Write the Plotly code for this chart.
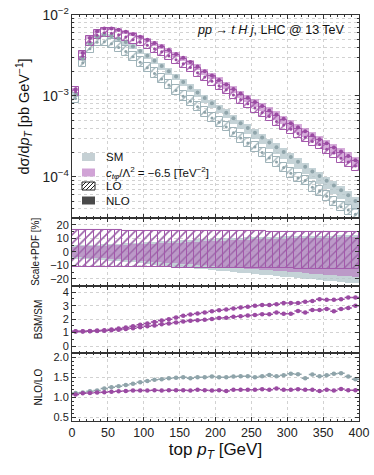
import plotly.graph_objects as go
from plotly.subplots import make_subplots

FONT = "Liberation Sans, Arial, sans-serif"
SM_FILL = "rgba(178,196,201,0.75)"
SM_LINE = "#9fb3b9"
SM_MARK = "#8fa4aa"
BSM_FILL = "rgba(180,105,188,0.55)"
BSM_LINE = "#a358ab"
BSM_MARK = "#9a4aa2"
GRID = "#d2d2d2"
AXIS = "#333333"

# bin centres, 10 GeV bins
pt = [5, 15, 25, 35, 45, 55, 65, 75, 85, 95,
      105, 115, 125, 135, 145, 155, 165, 175, 185, 195,
      205, 215, 225, 235, 245, 255, 265, 275, 285, 295,
      305, 315, 325, 335, 345, 355, 365, 375, 385, 395]

# dsigma/dpT at NLO [pb/GeV]
sm_nlo = [1.03e-3, 2.88e-3, 4.41e-3, 5.37e-3, 5.69e-3, 5.50e-3, 5.09e-3, 4.62e-3, 4.07e-3, 3.59e-3,
          3.13e-3, 2.72e-3, 2.34e-3, 2.02e-3, 1.74e-3, 1.48e-3, 1.27e-3, 1.10e-3, 9.4e-4, 8.1e-4,
          7.1e-4, 6.2e-4, 5.3e-4, 4.6e-4, 4.0e-4, 3.5e-4, 3.05e-4, 2.66e-4, 2.32e-4, 2.02e-4,
          1.76e-4, 1.53e-4, 1.33e-4, 1.16e-4, 1.02e-4, 8.9e-5, 7.8e-5, 6.8e-5, 5.9e-5, 5.0e-5]
bsm_nlo = [1.20e-3, 3.40e-3, 5.20e-3, 6.30e-3, 6.80e-3, 6.80e-3, 6.55e-3, 6.20e-3, 5.80e-3, 5.40e-3,
           4.95e-3, 4.50e-3, 4.10e-3, 3.70e-3, 3.30e-3, 2.95e-3, 2.62e-3, 2.30e-3, 2.02e-3, 1.78e-3,
           1.57e-3, 1.38e-3, 1.22e-3, 1.07e-3, 9.5e-4, 8.4e-4, 7.5e-4, 6.6e-4, 5.9e-4, 5.2e-4,
           4.6e-4, 4.1e-4, 3.65e-4, 3.25e-4, 2.9e-4, 2.6e-4, 2.3e-4, 2.05e-4, 1.8e-4, 1.6e-4]

# NLO/LO
k_sm = [1.11, 1.12, 1.15, 1.17, 1.22, 1.25, 1.28, 1.31, 1.34, 1.38,
        1.41, 1.44, 1.45, 1.48, 1.49, 1.50, 1.48, 1.50, 1.50, 1.52,
        1.50, 1.50, 1.52, 1.53, 1.53, 1.50, 1.53, 1.56, 1.53, 1.55,
        1.59, 1.58, 1.48, 1.57, 1.53, 1.55, 1.59, 1.60, 1.52, 1.45]
k_bsm = [1.07, 1.10, 1.11, 1.12, 1.13, 1.14, 1.15, 1.16, 1.17, 1.17,
         1.17, 1.18, 1.17, 1.18, 1.18, 1.18, 1.17, 1.19, 1.18, 1.17,
         1.18, 1.16, 1.19, 1.19, 1.19, 1.19, 1.20, 1.19, 1.22, 1.19,
         1.19, 1.20, 1.19, 1.19, 1.16, 1.19, 1.17, 1.21, 1.18, 1.18]

# BSM/SM
ratio_lo = [1.10, 1.10, 1.12, 1.15, 1.18, 1.23, 1.30, 1.38, 1.47, 1.58,
            1.68, 1.78, 1.90, 2.00, 2.12, 2.25, 2.35, 2.42, 2.50, 2.58,
            2.66, 2.72, 2.80, 2.86, 2.93, 3.00, 3.06, 3.06, 3.10, 3.20,
            3.20, 3.20, 3.30, 3.35, 3.48, 3.45, 3.45, 3.48, 3.60, 3.60]
ratio_nlo = [1.08, 1.08, 1.10, 1.12, 1.14, 1.17, 1.22, 1.27, 1.33, 1.40,
             1.47, 1.53, 1.62, 1.68, 1.76, 1.82, 1.88, 1.92, 1.96, 2.02,
             2.08, 2.10, 2.18, 2.22, 2.28, 2.30, 2.37, 2.37, 2.50, 2.40,
             2.40, 2.60, 2.50, 2.68, 2.68, 2.76, 2.58, 2.76, 2.82, 3.00]

# scale+PDF uncertainty [%]
lo_up = [16.0, 16.0, 16.0, 16.0, 16.0, 16.0, 16.0, 15.8, 15.8, 15.8,
         15.8, 15.6, 15.6, 15.6, 15.6, 15.5, 15.5, 15.5, 15.4, 15.4,
         15.4, 15.3, 15.3, 15.3, 15.2, 15.2, 15.2, 15.1, 15.1, 15.1,
         15.0, 15.0, 15.0, 15.0, 15.0, 15.0, 14.9, 14.9, 14.9, 14.9]
lo_dn = [-11.0, -11.0, -11.0, -11.0, -11.1, -11.1, -11.2, -11.2, -11.3, -11.3,
         -11.4, -11.4, -11.5, -11.5, -11.6, -11.6, -11.7, -11.7, -11.8, -11.8,
         -11.9, -11.9, -12.0, -12.0, -12.0, -12.1, -12.1, -12.1, -12.2, -12.2,
         -12.2, -12.3, -12.3, -12.3, -12.4, -12.4, -12.4, -12.5, -12.5, -12.5]
sm_nlo_up = [5.0, 5.0, 5.2, 5.4, 5.6, 5.8, 6.0, 6.3, 6.6, 6.9,
             7.2, 7.5, 7.8, 8.1, 8.4, 8.7, 9.0, 9.3, 9.6, 9.8,
             10.0, 10.2, 10.4, 10.6, 10.8, 11.0, 11.1, 11.2, 11.4, 11.5,
             11.6, 11.7, 11.8, 11.9, 12.0, 12.1, 12.2, 12.3, 12.4, 12.5]
sm_nlo_dn = [-5.0, -5.0, -5.3, -5.6, -6.0, -6.4, -6.8, -7.3, -7.8, -8.3,
             -8.8, -9.3, -9.8, -10.3, -10.8, -11.3, -11.8, -12.3, -12.8, -13.3,
             -13.8, -14.3, -14.8, -15.3, -15.8, -16.3, -16.8, -17.3, -17.8, -18.3,
             -18.8, -19.3, -19.8, -20.3, -20.8, -21.3, -21.8, -22.3, -22.8, -23.3]
bsm_nlo_up = [4.0, 4.2, 4.4, 4.6, 4.8, 5.0, 5.2, 5.4, 5.6, 5.8,
              6.0, 6.2, 6.4, 6.6, 6.8, 7.0, 7.2, 7.5, 7.8, 8.0,
              8.3, 8.5, 8.7, 8.9, 9.1, 9.3, 9.5, 9.6, 9.8, 9.9,
              10.0, 10.2, 10.3, 10.4, 10.5, 10.6, 10.7, 10.8, 10.9, 11.0]
bsm_nlo_dn = [-4.0, -4.0, -4.2, -4.4, -4.7, -5.0, -5.3, -5.6, -6.0, -6.4,
              -6.8, -7.2, -7.6, -8.0, -8.4, -8.8, -9.2, -9.6, -10.0, -10.4,
              -10.8, -11.2, -11.6, -12.0, -12.4, -12.8, -13.2, -13.6, -14.0, -14.4,
              -14.8, -15.2, -15.6, -16.0, -16.4, -16.8, -17.2, -17.6, -17.9, -18.2]

legend_labels = ["SM",
                 "<i>c</i><sub><i>tφ</i></sub>/Λ<sup>2</sup> = −6.5 [TeV<sup>−2</sup>]",
                 "LO", "NLO"]

W, H = 374, 475
M = dict(l=72, r=15, t=15, b=54)


def px(x, y):
    """pixel position -> paper coordinates"""
    return ((x - M["l"]) / (W - M["l"] - M["r"]),
            1 - (y - M["t"]) / (H - M["t"] - M["b"]))


def band(x, lo, hi, color, line=None, hatch=False):
    marker = dict(color=color, line=dict(width=0))
    if line:
        marker["line"] = dict(width=1, color=line)
    if hatch:
        marker["pattern"] = dict(shape="/", size=6, solidity=0.22, fillmode="replace")
    return go.Bar(x=x, base=lo, y=[h - l for l, h in zip(lo, hi)], width=10,
                  marker=marker, showlegend=False, hoverinfo="skip")


def points(x, y, color, size=4.5):
    return go.Scatter(x=x, y=y, mode="markers", showlegend=False, hoverinfo="skip",
                      marker=dict(size=size, color=color),
                      error_x=dict(type="constant", value=5, width=0, thickness=1.5, color=color))


fig = make_subplots(rows=4, cols=1, shared_xaxes=True, vertical_spacing=0,
                    row_heights=[0.5, 0.1667, 0.1667, 0.1667])

# main panel
for nlo, k, up, dn, fill, line, mark in [
    (sm_nlo, k_sm, sm_nlo_up, sm_nlo_dn, SM_FILL, SM_LINE, SM_MARK),
    (bsm_nlo, k_bsm, bsm_nlo_up, bsm_nlo_dn, BSM_FILL, BSM_LINE, BSM_MARK),
]:
    lo_c = [n / kk for n, kk in zip(nlo, k)]
    fig.add_trace(band(pt, [v * (1 + d / 100) for v, d in zip(nlo, dn)],
                       [v * (1 + u / 100) for v, u in zip(nlo, up)], fill), row=1, col=1)
    fig.add_trace(band(pt, [v * (1 + d / 100) for v, d in zip(lo_c, lo_dn)],
                       [v * (1 + u / 100) for v, u in zip(lo_c, lo_up)], line, line=line, hatch=True),
                  row=1, col=1)
    fig.add_trace(go.Scatter(x=pt, y=nlo, mode="markers", marker=dict(size=4, color=mark),
                             showlegend=False, hoverinfo="skip"), row=1, col=1)
    fig.add_trace(go.Scatter(x=pt, y=lo_c, mode="markers", marker=dict(size=3, color=mark),
                             showlegend=False, hoverinfo="skip"), row=1, col=1)

# scale+PDF panel
fig.add_trace(band(pt, sm_nlo_dn, sm_nlo_up, SM_FILL), row=2, col=1)
fig.add_trace(band(pt, bsm_nlo_dn, bsm_nlo_up, BSM_FILL), row=2, col=1)
fig.add_trace(band(pt, lo_dn, lo_up, SM_LINE, line=SM_LINE, hatch=True), row=2, col=1)
fig.add_trace(band(pt, lo_dn, lo_up, BSM_LINE, line=BSM_LINE, hatch=True), row=2, col=1)

# BSM/SM
fig.add_trace(points(pt, ratio_lo, BSM_MARK), row=3, col=1)
fig.add_trace(points(pt, ratio_nlo, BSM_MARK), row=3, col=1)

# NLO/LO
fig.add_trace(points(pt, k_sm, SM_MARK), row=4, col=1)
fig.add_trace(points(pt, k_bsm, BSM_MARK), row=4, col=1)

common = dict(showline=True, linecolor=AXIS, linewidth=1, mirror="ticks", ticks="inside",
              tickcolor=AXIS, ticklen=4, showgrid=True, gridcolor=GRID, griddash="dot",
              gridwidth=0.8, zeroline=False, automargin=False,
              tickfont=dict(size=11, color="#222"))

for r in range(1, 5):
    fig.update_xaxes(common, range=[0, 400], dtick=50,
                     minor=dict(ticks="inside", ticklen=2, dtick=10, tickcolor=AXIS), row=r, col=1)
fig.update_xaxes(tickfont=dict(size=12.5, color="#222"),
                 title=dict(text="top <i>p<sub>T</sub></i> [GeV]", font=dict(size=17, color="#111"),
                            standoff=1), row=4, col=1)

fig.update_yaxes(common, type="log", range=[-4.51, -2], dtick=1, exponentformat="power",
                 minor=dict(ticks="inside", ticklen=2, dtick="D1", tickcolor=AXIS, showgrid=True,
                            gridcolor=GRID, griddash="dot", gridwidth=0.8),
                 title=dict(text="dσ/d<i>p<sub>T</sub></i> [pb GeV<sup>−1</sup>]",
                            font=dict(size=14.5, color="#111"), standoff=9), row=1, col=1)
fig.update_yaxes(common, range=[-25, 25.2], tickvals=[-20, -10, 0, 10, 20],
                 minor=dict(ticks="inside", ticklen=2, dtick=5, tickcolor=AXIS),
                 title=dict(text="Scale+PDF [%]", font=dict(size=10, color="#111"), standoff=8),
                 row=2, col=1)
fig.update_yaxes(common, range=[-0.54, 4.49], dtick=1,
                 minor=dict(ticks="inside", ticklen=2, dtick=0.5, tickcolor=AXIS),
                 title=dict(text="BSM/SM", font=dict(size=10, color="#111"), standoff=18),
                 row=3, col=1)
fig.update_yaxes(common, range=[0.41, 2.1], dtick=0.5, tickformat=".1f",
                 minor=dict(ticks="inside", ticklen=2, dtick=0.1, tickcolor=AXIS),
                 title=dict(text="NLO/LO", font=dict(size=10, color="#111"), standoff=8),
                 row=4, col=1)

fig.add_annotation(text="<i>pp</i> → <i>t H j</i>, LHC @ 13 TeV", xref="paper", yref="paper",
                   x=px(347, 0)[0], y=px(0, 30)[1], xanchor="right", yanchor="middle",
                   showarrow=False, font=dict(size=12.5, color="#111"))

# hand-made legend (plotly's own legend rows are too tall)
swatch_y = [157, 172.5, 186, 200.5]
swatch_fill = ["#c5d0d4", "#d1a3d6", "white", "#4a4a4a"]
for label, yc, col in zip(legend_labels, swatch_y, swatch_fill):
    x0, y0 = px(82, yc - 4)
    x1, y1 = px(95, yc + 4)
    lo_item = col == "white"
    fig.add_shape(type="rect", xref="paper", yref="paper", x0=x0, x1=x1, y0=y1, y1=y0,
                  fillcolor=col, line=dict(width=1 if lo_item else 0, color="#222"), layer="above")
    if lo_item:
        for b in [78, 82, 86, 90]:
            xa, ya = max(b, 82), yc + 4 - (max(b, 82) - b)
            xb = min(b + 8, 95)
            yb = yc + 4 - (xb - b)
            pa, pb = px(xa, ya), px(xb, yb)
            fig.add_shape(type="line", xref="paper", yref="paper", x0=pa[0], y0=pa[1],
                          x1=pb[0], y1=pb[1], line=dict(width=1, color="#222"), layer="above")
    tx, ty = px(104, yc)
    fig.add_annotation(text=label, xref="paper", yref="paper", x=tx, y=ty, xanchor="left",
                       yanchor="middle", showarrow=False, font=dict(size=11.5, color="#111"))

fig.update_layout(
    width=W, height=H,
    margin=M,
    barmode="overlay", bargap=0,
    plot_bgcolor="white", paper_bgcolor="white",
    font=dict(family=FONT, color="#222"),
    showlegend=False,
)

fig.write_html("out.html", config={"displayModeBar": False},
               post_script="document.body.style.margin = '0px';")
